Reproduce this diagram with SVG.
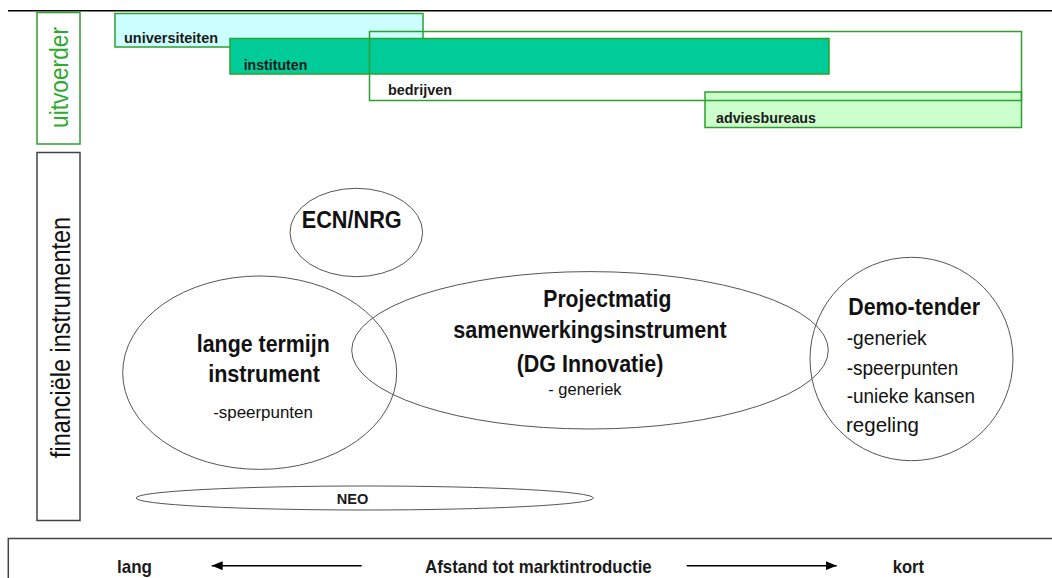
<svg xmlns="http://www.w3.org/2000/svg" width="1052" height="578" viewBox="0 0 1052 578">
  <defs>
    <style>
      .gbox { stroke: #2f9f2f; stroke-width: 1.5; }
      .frame { fill: none; stroke: #444; stroke-width: 1.5; }
      .ell { fill: none; stroke: #555; stroke-width: 1; }
      .lbl { font-family: "Liberation Sans", Arial, sans-serif; font-weight: bold; fill: #1a1a1a; }
      .big { font-family: "Liberation Sans", Arial, sans-serif; font-weight: bold; font-size: 23px; fill: #111; }
      .sub { font-family: "Liberation Sans", Arial, sans-serif; font-weight: normal; fill: #111; }
      .arrow { stroke: #000; stroke-width: 1.5; fill: none; }
    </style>
    <marker id="head" viewBox="0 0 11 9" refX="11" refY="4.5" markerWidth="11" markerHeight="9" markerUnits="userSpaceOnUse" orient="auto">
      <path d="M0,0 L11,4.5 L0,9 z" fill="#000"/>
    </marker>
  </defs>

  <rect width="1052" height="578" fill="#fff"/>

  <!-- top line -->
  <line x1="8" y1="10.8" x2="1052" y2="10.8" stroke="#000" stroke-width="1.5"/>

  <!-- uitvoerder label -->
  <g id="uitvoerder">
    <rect x="37" y="12.5" width="43" height="131.5" fill="none" class="gbox"/>
    <text transform="translate(68.3,77.5) rotate(-90)" x="0" y="0" text-anchor="middle" font-family="Liberation Sans, Arial, sans-serif" font-size="25" fill="#2eaa2e" textLength="101" lengthAdjust="spacingAndGlyphs">uitvoerder</text>
  </g>

  <!-- financiele instrumenten label -->
  <g id="financiele-instrumenten">
    <rect x="37" y="152.5" width="43" height="368" class="frame"/>
    <text transform="translate(70,337.5) rotate(-90)" x="0" y="0" text-anchor="middle" font-family="Liberation Sans, Arial, sans-serif" font-size="27" fill="#111" textLength="241" lengthAdjust="spacingAndGlyphs">financiële instrumenten</text>
  </g>

  <!-- executor bars -->
  <g id="universiteiten">
    <rect x="115" y="13.5" width="308" height="33.5" fill="#ccffff" class="gbox"/>
    <text class="lbl" x="124" y="43" font-size="15.5" textLength="94" lengthAdjust="spacingAndGlyphs">universiteiten</text>
  </g>
  <g id="instituten">
    <rect x="230" y="38.5" width="599" height="35.5" fill="#00cc99" class="gbox"/>
    <text class="lbl" x="243.7" y="70" font-size="15.5" textLength="63.6" lengthAdjust="spacingAndGlyphs">instituten</text>
  </g>
  <g id="adviesbureaus">
    <rect x="705" y="92" width="316.5" height="35.5" fill="#ccffcc" class="gbox"/>
    <text class="lbl" x="716" y="123" font-size="15.5" textLength="100" lengthAdjust="spacingAndGlyphs">adviesbureaus</text>
  </g>
  <g id="bedrijven">
    <rect x="369.5" y="31.5" width="652" height="69" fill="none" class="gbox"/>
    <text class="lbl" x="388" y="95" font-size="15.5" textLength="64" lengthAdjust="spacingAndGlyphs">bedrijven</text>
  </g>

  <!-- instruments -->
  <g id="ecn-nrg">
    <ellipse class="ell" cx="356.3" cy="232.5" rx="66.3" ry="44.2"/>
    <text class="big" x="351.7" y="228" text-anchor="middle" textLength="100" lengthAdjust="spacingAndGlyphs">ECN/NRG</text>
  </g>

  <g id="lange-termijn">
    <ellipse class="ell" cx="259.7" cy="372.7" rx="137" ry="96.7"/>
    <text class="big" x="263.3" y="351.7" text-anchor="middle" textLength="133" lengthAdjust="spacingAndGlyphs">lange termijn</text>
    <text class="big" x="264" y="381.7" text-anchor="middle" textLength="111.7" lengthAdjust="spacingAndGlyphs">instrument</text>
    <text class="sub" x="263" y="418" text-anchor="middle" font-size="17" textLength="99.7" lengthAdjust="spacingAndGlyphs">-speerpunten</text>
  </g>

  <g id="projectmatig">
    <ellipse class="ell" cx="590" cy="350.3" rx="238.3" ry="78.7"/>
    <text class="big" x="543.3" y="306.7" textLength="128" lengthAdjust="spacingAndGlyphs">Projectmatig</text>
    <text class="big" x="453.3" y="338.3" textLength="273.3" lengthAdjust="spacingAndGlyphs">samenwerkingsinstrument</text>
    <text class="big" x="516.7" y="371.7" textLength="146.6" lengthAdjust="spacingAndGlyphs">(DG Innovatie)</text>
    <text class="sub" x="548.3" y="395" font-size="17" textLength="73.3" lengthAdjust="spacingAndGlyphs">- generiek</text>
  </g>

  <g id="demo-tender">
    <ellipse class="ell" cx="911.5" cy="359" rx="101.5" ry="101.7"/>
    <text class="big" x="848.3" y="315" textLength="131.7" lengthAdjust="spacingAndGlyphs">Demo-tender</text>
    <text class="sub" x="846.7" y="345" font-size="20.5" textLength="80" lengthAdjust="spacingAndGlyphs">-generiek</text>
    <text class="sub" x="846.7" y="375" font-size="20.5" textLength="111.7" lengthAdjust="spacingAndGlyphs">-speerpunten</text>
    <text class="sub" x="846.7" y="403.3" font-size="20.5" textLength="128.3" lengthAdjust="spacingAndGlyphs">-unieke kansen</text>
    <text class="sub" x="846" y="431.7" font-size="20.5">regeling</text>
  </g>

  <g id="neo">
    <ellipse class="ell" cx="364.7" cy="498" rx="228.7" ry="12"/>
    <text class="lbl" x="352.5" y="504" text-anchor="middle" font-size="15.5" textLength="31.6" lengthAdjust="spacingAndGlyphs">NEO</text>
  </g>

  <!-- bottom axis -->
  <g id="axis">
    <rect x="8.3" y="538.5" width="1060" height="60" class="frame"/>
    <text class="lbl" x="117" y="573" font-size="18.5" textLength="35" lengthAdjust="spacingAndGlyphs">lang</text>
    <text class="lbl" x="425" y="573" font-size="18.5" textLength="226.7" lengthAdjust="spacingAndGlyphs">Afstand tot marktintroductie</text>
    <text class="lbl" x="892.7" y="573" font-size="18.5" textLength="31.3" lengthAdjust="spacingAndGlyphs">kort</text>
  </g>

  <g id="connectors">
    <line class="arrow" x1="361.7" y1="565.7" x2="211.7" y2="565.7" marker-end="url(#head)"/>
    <line class="arrow" x1="686.7" y1="565.7" x2="836.7" y2="565.7" marker-end="url(#head)"/>
  </g>
</svg>
